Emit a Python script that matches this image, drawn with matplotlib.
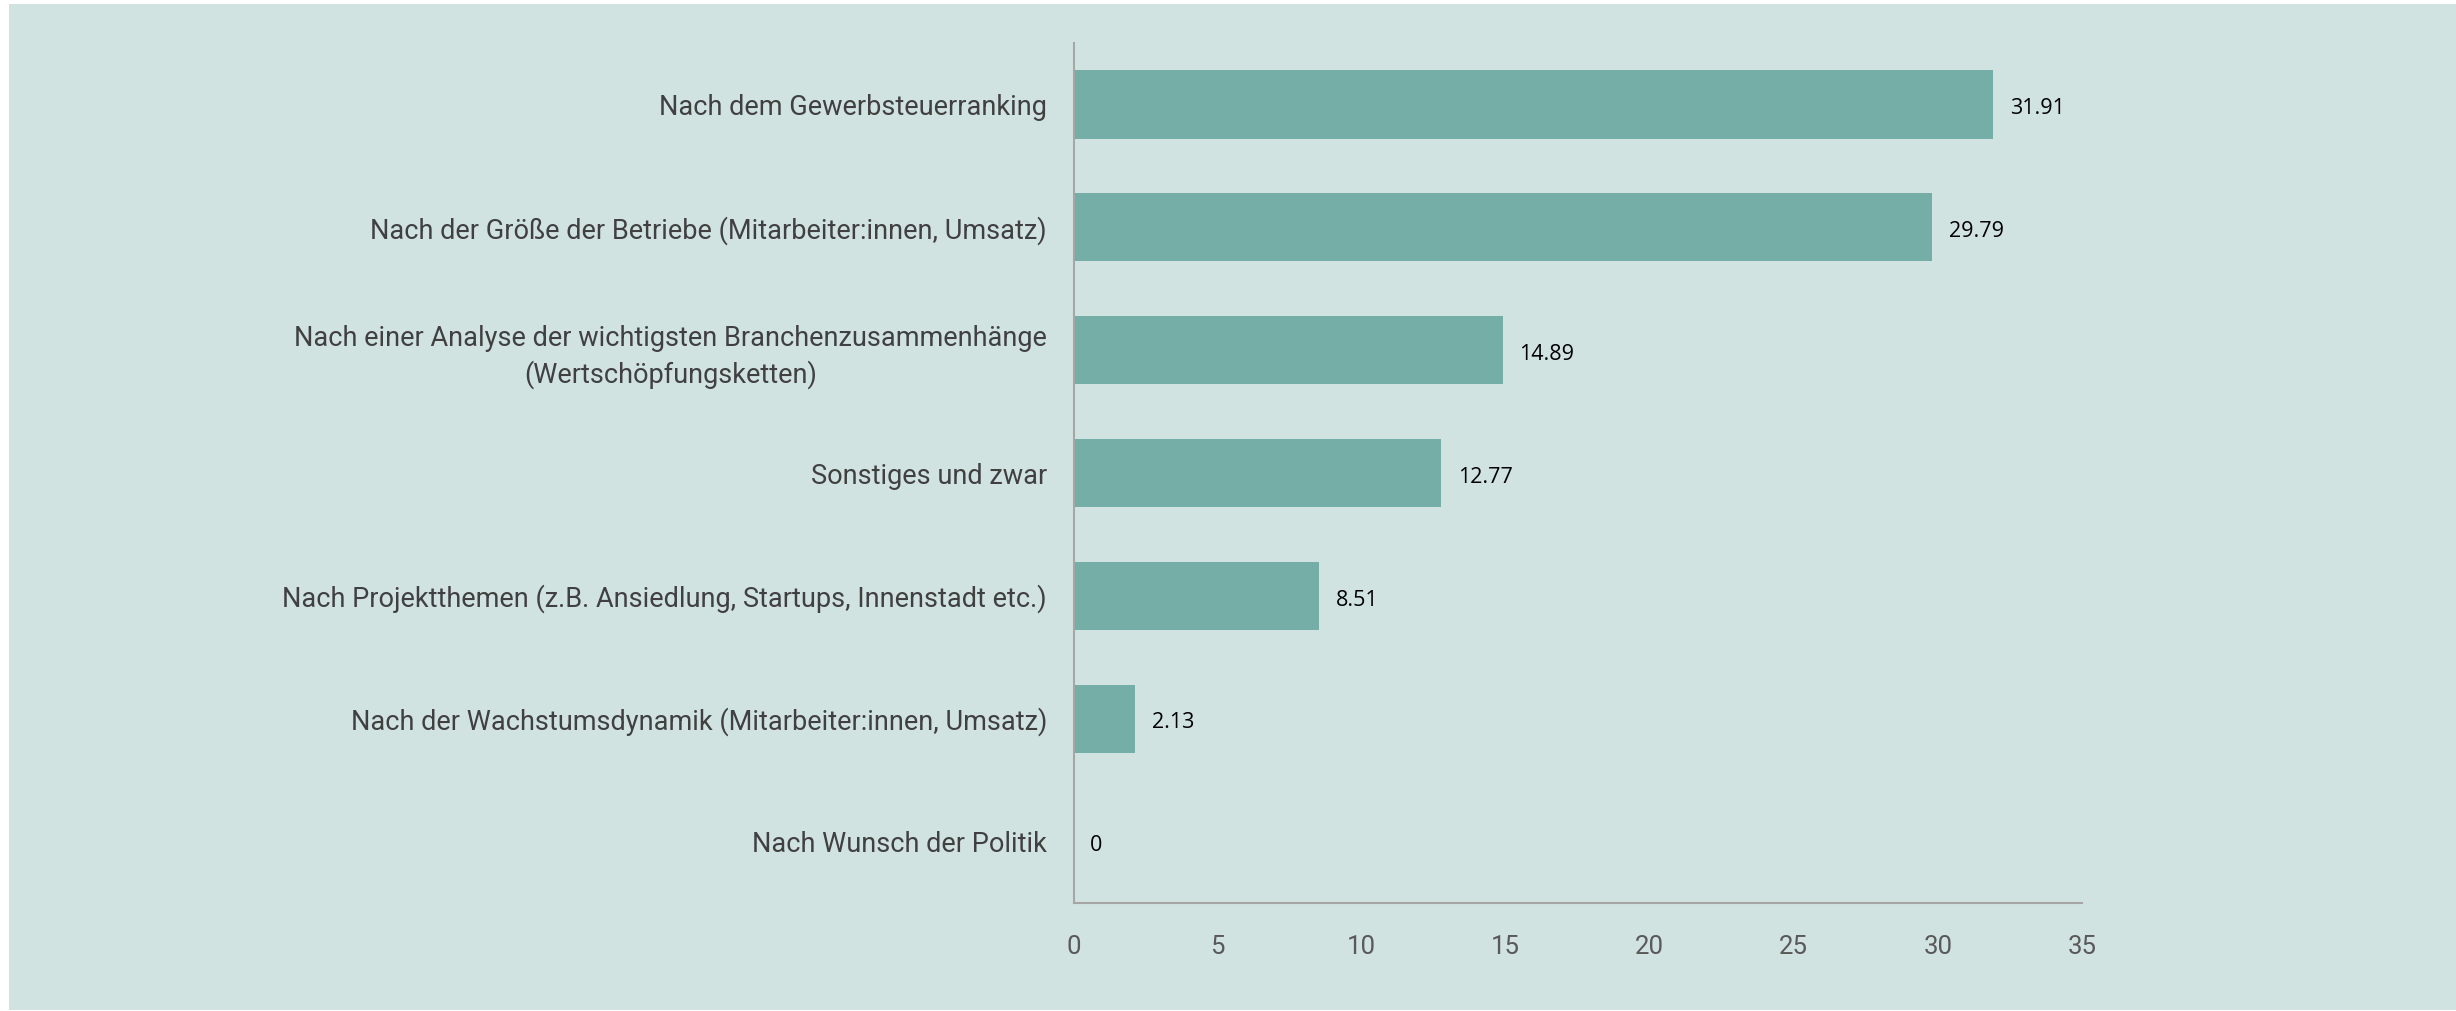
import matplotlib
matplotlib.use("Agg")
import matplotlib.pyplot as plt
from matplotlib.patches import Rectangle

categories = [
    "Nach dem Gewerbsteuerranking",
    "Nach der Größe der Betriebe (Mitarbeiter:innen, Umsatz)",
    "Nach einer Analyse der wichtigsten Branchenzusammenhänge\n(Wertschöpfungsketten)",
    "Sonstiges und zwar",
    "Nach Projektthemen (z.B. Ansiedlung, Startups, Innenstadt etc.)",
    "Nach der Wachstumsdynamik (Mitarbeiter:innen, Umsatz)",
    "Nach Wunsch der Politik",
]
values = [31.91, 29.79, 14.89, 12.77, 8.51, 2.13, 0]
value_labels = ["31.91", "29.79", "14.89", "12.77", "8.51", "2.13", "0"]
xticks = [0, 5, 10, 15, 20, 25, 30, 35]

BG = "#D1E3E1"
BAR = "#75ADA7"
W, H = 2456, 1011

fig = plt.figure(figsize=(W / 100, H / 100), dpi=100, facecolor="white")
fig.patches.append(Rectangle((9 / W, 1 / H), 1 - 9 / W, (H - 5) / H,
                             transform=fig.transFigure, facecolor=BG,
                             edgecolor="none", zorder=-10))

left, right, top, bottom = 1073.5, 2082, 43, 903
ax = fig.add_axes([left / W, 1 - bottom / H, (right - left) / W, (bottom - top) / H])
ax.set_facecolor("none")
ax.set_zorder(5)

ypos = list(range(len(categories)))
ax.barh(ypos, values, height=0.556, color=BAR, zorder=2)
ax.set_ylim(len(categories) - 0.5, -0.5)
ax.set_xlim(0, 35)
ax.set_xticks(xticks)
ax.set_xticklabels([str(t) for t in xticks])
ax.set_yticks(ypos)
ax.set_yticklabels(categories, ha="right", multialignment="center",
                   linespacing=1.35)

for s in ["top", "right"]:
    ax.spines[s].set_visible(False)
for s in ["left", "bottom"]:
    ax.spines[s].set_color("#A6A6A6")
    ax.spines[s].set_linewidth(1.5)

ax.tick_params(axis="y", length=0, pad=19, labelsize=19.5, labelcolor="#404040")
ax.tick_params(axis="x", length=0, pad=23, labelsize=18.5, labelcolor="#595959")
for lbl in ax.get_yticklabels() + ax.get_xticklabels():
    lbl.set_family("Roboto")

for y, v, t in zip(ypos, values, value_labels):
    ax.annotate(t, xy=(v, y), xytext=(12, -3), textcoords="offset points",
                ha="left", va="center", fontsize=15.5, color="black",
                family="Open Sans")

fig.savefig("out.png", dpi=100, facecolor="white")
